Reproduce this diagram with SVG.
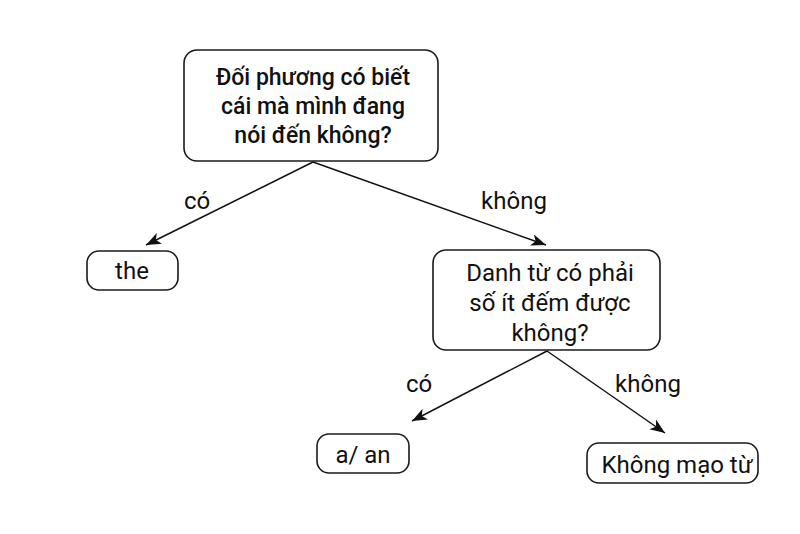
<svg xmlns="http://www.w3.org/2000/svg" width="800" height="534" viewBox="0 0 800 534">
<style>
.box{fill:#fff;stroke:#1a1a1a;stroke-width:1.6}
.t{font-family:Roboto,"Noto Sans",sans-serif;font-size:24px;fill:#111;text-anchor:middle}
.b{font-weight:500;font-size:23px}
.edge{stroke:#111;stroke-width:1.5;fill:none;marker-end:url(#arr)}
</style>
<defs>
<marker id="arr" markerUnits="userSpaceOnUse" markerWidth="16" markerHeight="12" viewBox="0 0 16 12" refX="15" refY="6" orient="auto">
<path d="M0,0 L15,6 L0,12 L4,6 Z" fill="#111"/>
</marker>
</defs>
<rect width="800" height="534" fill="#fff"/>
<g id="connectors">
<line class="edge" x1="313" y1="162" x2="146" y2="245"/>
<line class="edge" x1="313" y1="162" x2="546" y2="245"/>
<line class="edge" x1="547" y1="351" x2="412" y2="421"/>
<line class="edge" x1="547" y1="351" x2="665" y2="433"/>
<text class="t" x="197" y="209">có</text>
<text class="t" x="514" y="209">không</text>
<text class="t" x="419" y="392">có</text>
<text class="t" x="648" y="392">không</text>
</g>
<g id="q1">
<rect class="box" x="184" y="50" width="254" height="111" rx="13"/>
<text class="t b" x="313" y="85">Đối phương có biết</text>
<text class="t b" x="313" y="114">cái mà mình đang</text>
<text class="t b" x="313" y="143">nói đến không?</text>
</g>
<g id="the">
<rect class="box" x="87" y="251" width="91" height="39" rx="12"/>
<text class="t" x="132" y="279">the</text>
</g>
<g id="q2">
<rect class="box" x="433" y="250" width="227" height="100" rx="13"/>
<text class="t" x="550" y="281">Danh từ có phải</text>
<text class="t" x="550" y="311">số ít đếm được</text>
<text class="t" x="550" y="341">không?</text>
</g>
<g id="aan">
<rect class="box" x="317" y="434" width="92" height="39" rx="12"/>
<text class="t" x="363" y="463">a/ an</text>
</g>
<g id="none">
<rect class="box" x="587" y="443" width="171" height="40" rx="12"/>
<text class="t" x="677" y="473">Không mạo từ</text>
</g>
</svg>
